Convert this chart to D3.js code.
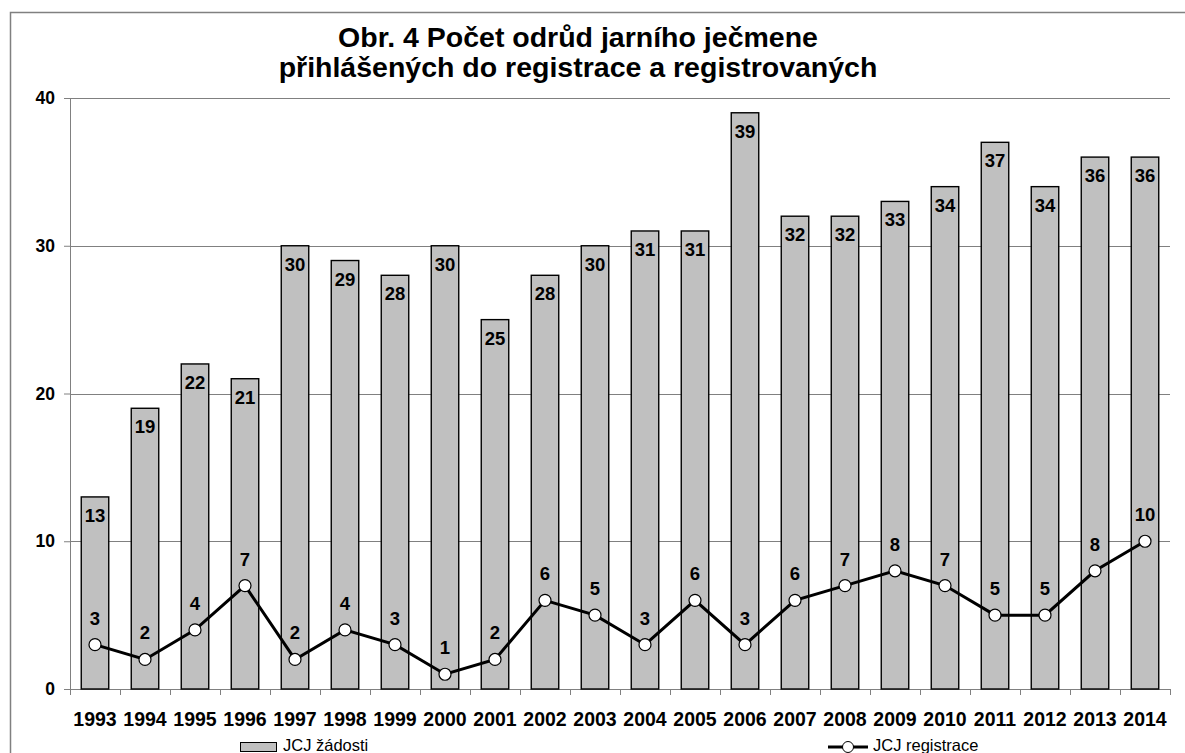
<!DOCTYPE html>
<html>
<head>
<meta charset="utf-8">
<script src="https://cdn.jsdelivr.net/npm/d3@7"></script>
<style>
  body { margin: 0; background: #fff; }
  svg { display: block; font-family: "Liberation Sans", Arial, sans-serif; }
</style>
</head>
<body>
<div id="chart"></div>
<script>
var years = ["1993","1994","1995","1996","1997","1998","1999","2000","2001","2002","2003",
  "2004","2005","2006","2007","2008","2009","2010","2011","2012","2013","2014"];
var zadosti = [13,19,22,21,30,29,28,30,25,28,30,31,31,39,32,32,33,34,37,34,36,36];
var registrace = [3,2,4,7,2,4,3,1,2,6,5,3,6,3,6,7,8,7,5,5,8,10];
var yTicks = [0,10,20,30,40];
var titleLines = ["Obr. 4 Počet odrůd jarního ječmene", "přihlášených do registrace a registrovaných"];

var W = 1185, H = 753;
var margin = {top: 98, right: 15, bottom: 64, left: 70};
var width = W - margin.left - margin.right;
var height = H - margin.top - margin.bottom;

var svg = d3.select("#chart").append("svg")
  .attr("width", W)
  .attr("height", H);

// outer frame
svg.append("rect")
  .attr("x", 10.5).attr("y", 12.5)
  .attr("width", W).attr("height", H)
  .attr("fill", "none")
  .attr("stroke", "#808080")
  .attr("stroke-width", 1.5);

svg.selectAll(".title")
  .data(titleLines)
  .enter().append("text")
  .attr("class", "title")
  .attr("x", 578)
  .attr("y", function (d, i) { return 47 + i * 30; })
  .attr("text-anchor", "middle")
  .style("font-size", "28.5px")
  .style("font-weight", "bold")
  .text(function (d) { return d; });

var g = svg.append("g")
  .attr("transform", "translate(" + margin.left + "," + margin.top + ")");

var x = d3.scaleBand()
  .domain(years)
  .range([0, width])
  .paddingInner(0.45)
  .paddingOuter(0.225);

var xOuter = d3.scaleBand().domain(years).range([0, width]);

var y = d3.scaleLinear()
  .domain([0, 40])
  .range([height, 0]);

// gridlines
g.selectAll(".grid")
  .data(yTicks.slice(1))
  .enter().append("line")
  .attr("x1", 0).attr("x2", width)
  .attr("y1", function (d) { return Math.round(y(d)) + 0.5; })
  .attr("y2", function (d) { return Math.round(y(d)) + 0.5; })
  .attr("stroke", "#808080")
  .attr("stroke-width", 1);

// y axis
var yAxis = d3.axisLeft(y).tickValues(yTicks).tickSize(6).tickPadding(9);
var ya = g.append("g").call(yAxis);
ya.select(".domain").attr("stroke", "#808080");
ya.selectAll(".tick line").attr("stroke", "#808080");
ya.selectAll("text")
  .style("font-size", "17.5px")
  .style("font-weight", "bold")
  .attr("fill", "#000");

// x axis with ticks at band edges
var xa = g.append("g").attr("transform", "translate(0," + height + ")");
xa.append("line")
  .attr("x1", 0).attr("x2", width)
  .attr("y1", 0.5).attr("y2", 0.5)
  .attr("stroke", "#808080");
var edges = years.map(function (d) { return xOuter(d); }).concat([width]);
xa.selectAll(".xt")
  .data(edges)
  .enter().append("line")
  .attr("x1", function (d) { return Math.round(d) + 0.5; })
  .attr("x2", function (d) { return Math.round(d) + 0.5; })
  .attr("y1", 0).attr("y2", 6)
  .attr("stroke", "#808080");
xa.selectAll(".xl")
  .data(years)
  .enter().append("text")
  .attr("x", function (d) { return xOuter(d) + xOuter.bandwidth() / 2; })
  .attr("y", 37)
  .attr("text-anchor", "middle")
  .style("font-size", "19.5px")
  .style("font-weight", "bold")
  .text(function (d) { return d; });

// bars
g.selectAll(".bar")
  .data(zadosti)
  .enter().append("rect")
  .attr("x", function (d, i) { return x(years[i]); })
  .attr("y", function (d) { return y(d); })
  .attr("width", x.bandwidth())
  .attr("height", function (d) { return height - y(d); })
  .attr("fill", "#c0c0c0")
  .attr("stroke", "#000")
  .attr("stroke-width", 1.4);

g.selectAll(".barlabel")
  .data(zadosti)
  .enter().append("text")
  .attr("x", function (d, i) { return x(years[i]) + x.bandwidth() / 2; })
  .attr("y", function (d) { return y(d) + 25; })
  .attr("text-anchor", "middle")
  .style("font-size", "18.5px")
  .style("font-weight", "bold")
  .text(function (d) { return d; });

// line
var cx = function (d, i) { return xOuter(years[i]) + xOuter.bandwidth() / 2; };
var line = d3.line()
  .x(function (d, i) { return cx(d, i); })
  .y(function (d) { return y(d); });

g.append("path")
  .datum(registrace)
  .attr("d", line)
  .attr("fill", "none")
  .attr("stroke", "#000")
  .attr("stroke-width", 3);

g.selectAll(".pt")
  .data(registrace)
  .enter().append("circle")
  .attr("cx", cx)
  .attr("cy", function (d) { return y(d); })
  .attr("r", 6)
  .attr("fill", "#fff")
  .attr("stroke", "#000")
  .attr("stroke-width", 1.2);

g.selectAll(".ptlabel")
  .data(registrace)
  .enter().append("text")
  .attr("x", cx)
  .attr("y", function (d) { return y(d) - 20; })
  .attr("text-anchor", "middle")
  .style("font-size", "18.5px")
  .style("font-weight", "bold")
  .text(function (d) { return d; });

// legend
var leg = svg.append("g");
leg.append("rect")
  .attr("x", 240.5).attr("y", 742.5)
  .attr("width", 36).attr("height", 9)
  .attr("fill", "#c0c0c0")
  .attr("stroke", "#000");
leg.append("text")
  .attr("x", 283).attr("y", 751)
  .style("font-size", "16.5px")
  .text("JCJ žádosti");

leg.append("line")
  .attr("x1", 828).attr("x2", 868)
  .attr("y1", 747).attr("y2", 747)
  .attr("stroke", "#000")
  .attr("stroke-width", 3);
leg.append("circle")
  .attr("cx", 848).attr("cy", 747).attr("r", 5.5)
  .attr("fill", "#fff")
  .attr("stroke", "#000");
leg.append("text")
  .attr("x", 873).attr("y", 751)
  .style("font-size", "16.5px")
  .text("JCJ registrace");
</script>
</body>
</html>
